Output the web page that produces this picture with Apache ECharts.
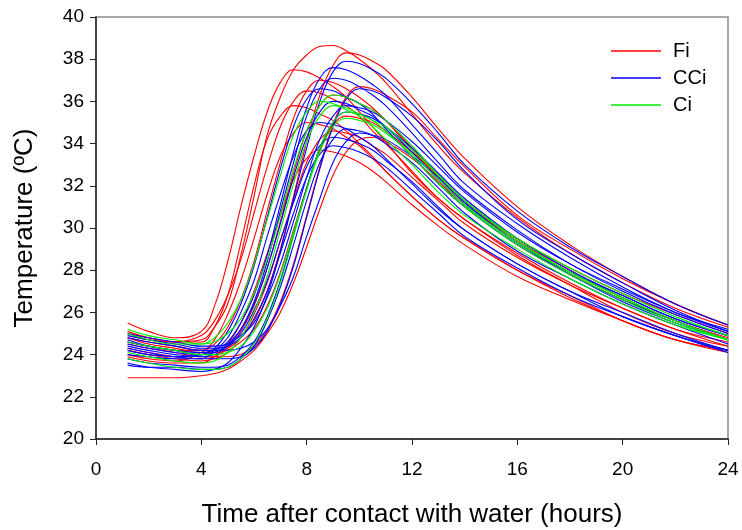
<!DOCTYPE html>
<html>
<head>
<meta charset="utf-8">
<script src="https://cdn.jsdelivr.net/npm/echarts@6/dist/echarts.min.js"></script>
<style>html,body{margin:0;padding:0;background:#fff}#c{width:742px;height:530px}</style>
</head>
<body>
<div id="c"></div>
<script>
// time grid (hours)
const hours = [1.2, 2, 3, 4, 4.5, 5, 5.5, 6, 6.5, 7, 7.5, 8, 8.5, 9, 9.5, 10, 10.5, 11, 12, 13, 14, 16, 18, 20, 22, 24];

// Fi curves (red)
const fi1  = [25.0,24.8,24.6,24.7,25.3,26.4,28.7,31.5,34.4,36.2,37.5,38.2,38.6,38.65,38.4,38.0,37.5,36.9,35.4,33.9,32.6,30.5,28.8,27.4,26.2,25.3];
const fi2  = [25.5,25.1,24.8,25.1,26.3,28.4,31.0,33.4,35.5,36.9,37.5,37.4,37.1,36.7,36.2,35.5,34.8,34.1,32.6,31.4,30.4,28.7,27.3,26.0,25.0,24.4];
const fi3  = [24.8,24.6,24.4,24.2,24.2,24.3,24.8,25.6,27.0,29.0,31.5,34.1,36.3,37.7,38.3,38.2,37.9,37.5,36.2,34.7,33.3,31.0,29.2,27.7,26.4,25.4];
const fi4  = [24.6,24.4,24.2,24.2,24.5,25.3,26.6,28.4,30.8,33.1,35.2,36.5,37.0,36.9,36.6,36.2,35.7,35.1,33.7,32.4,31.2,29.4,28.0,26.7,25.6,24.8];
const fi5  = [25.0,24.7,24.6,24.6,25.3,26.8,29.3,32.0,34.2,35.3,35.8,35.7,35.4,35.1,34.6,34.0,33.4,32.7,31.5,30.4,29.5,28.0,26.7,25.6,24.7,24.2];
const fi6  = [24.3,24.1,23.9,23.8,23.9,24.3,25.1,26.3,28.1,30.3,32.6,34.6,35.8,36.3,36.2,35.9,35.6,35.1,33.8,32.5,31.3,29.4,27.9,26.7,25.6,24.7];
const fi7  = [24.0,23.8,23.7,24.1,24.7,25.9,27.5,29.5,31.6,33.4,34.5,35.0,34.9,34.7,34.3,33.9,33.3,32.7,31.5,30.4,29.5,28.0,26.8,25.6,24.7,24.2];
const fi8  = [24.8,24.5,24.3,24.1,24.1,24.2,24.6,25.2,26.3,27.9,29.9,31.9,33.7,34.9,35.3,35.2,35.0,34.6,33.6,32.5,31.3,29.5,28.1,26.9,25.9,25.0];
const fi9  = [23.9,23.7,23.6,23.6,23.9,24.5,25.5,27.0,28.8,30.6,32.3,33.3,33.7,33.6,33.4,33.1,32.7,32.2,31.1,30.1,29.2,27.7,26.6,25.6,24.7,24.1];
const fi10 = [22.9,22.9,22.9,23.0,23.1,23.3,23.7,24.2,25.0,26.0,27.4,29.1,30.9,32.5,33.6,34.2,34.3,34.1,33.3,32.2,31.0,29.2,27.8,26.6,25.6,24.7];
const fi11 = [24.5,24.3,24.1,23.9,23.9,23.9,24.0,24.4,25.2,26.5,28.3,30.6,32.9,34.9,36.2,36.7,36.6,36.3,35.5,34.2,32.9,30.6,29.0,27.6,26.4,25.4];
const fi12 = [24.2,24.0,23.8,23.7,23.8,24.1,24.8,25.9,27.4,29.4,31.3,33.1,34.2,34.6,34.5,34.3,33.9,33.5,32.4,31.3,30.2,28.6,27.3,26.2,25.2,24.4];
const fi13 = [25.1,24.8,24.6,24.9,25.6,26.8,28.5,30.7,32.9,34.8,36.0,36.5,36.4,36.1,35.8,35.3,34.6,34.0,32.7,31.4,30.4,28.8,27.4,26.2,25.2,24.6];

// CCi curves (blue)
const cci1  = [24.9,24.7,24.5,24.3,24.3,24.4,24.8,25.7,27.0,28.9,31.4,33.8,36.0,37.4,37.9,37.8,37.5,37.1,35.9,34.5,33.0,30.8,29.1,27.7,26.4,25.4];
const cci2  = [24.6,24.4,24.2,24.1,24.2,24.6,25.5,26.8,28.7,31.1,33.6,35.7,37.1,37.6,37.5,37.2,36.8,36.3,34.9,33.5,32.1,30.2,28.6,27.2,26.0,25.1];
const cci3  = [24.4,24.2,24.0,23.9,24.0,24.4,25.2,26.5,28.4,30.8,33.1,35.3,36.6,37.1,37.0,36.7,36.3,35.8,34.5,33.1,31.8,29.9,28.3,27.0,25.9,25.0];
const cci4  = [24.2,24.0,23.9,23.8,23.8,23.8,23.9,24.3,25.1,26.4,28.2,30.5,32.8,34.8,36.1,36.6,36.5,36.2,35.3,34.1,32.7,30.4,28.8,27.4,26.1,25.1];
const cci5  = [24.7,24.4,24.2,24.0,24.1,24.5,25.2,26.4,28.1,30.2,32.4,34.3,35.5,36.0,35.9,35.6,35.3,34.8,33.6,32.3,31.1,29.3,27.8,26.6,25.6,24.7];
const cci6  = [23.8,23.6,23.5,23.4,23.4,23.5,23.9,24.6,25.8,27.5,29.7,31.9,33.8,35.0,35.5,35.4,35.2,34.8,33.8,32.6,31.4,29.5,28.0,26.8,25.7,24.9];
const cci7  = [24.0,23.9,23.8,23.8,24.2,24.8,26.0,27.5,29.6,31.6,33.4,34.6,35.0,34.9,34.7,34.3,33.9,33.3,32.1,30.9,29.9,28.3,27.0,25.8,24.9,24.2];
const cci8  = [23.5,23.4,23.4,23.3,23.3,23.4,23.8,24.4,25.6,27.2,29.2,31.3,33.1,34.2,34.7,34.6,34.4,34.0,33.1,31.9,30.7,28.9,27.6,26.4,25.4,24.5];
const cci9  = [24.5,24.3,24.1,24.0,24.1,24.4,25.0,26.1,27.5,29.4,31.2,32.9,33.9,34.3,34.2,34.0,33.7,33.2,32.2,31.0,29.9,28.3,27.0,26.0,25.0,24.2];
const cci10 = [24.8,24.6,24.4,24.2,24.2,24.2,24.3,24.6,25.2,26.3,27.7,29.6,31.4,33.1,34.1,34.5,34.4,34.2,33.4,32.4,31.2,29.3,27.9,26.8,25.7,24.9];
const cci11 = [24.3,24.1,23.9,24.0,24.3,25.1,26.4,28.2,30.5,32.8,34.8,36.1,36.6,36.5,36.2,35.9,35.4,34.7,33.4,32.1,31.0,29.2,27.8,26.5,25.5,24.7];
const cci12 = [23.6,23.4,23.3,23.2,23.3,23.6,24.3,25.3,26.8,28.8,30.7,32.4,33.5,33.9,33.8,33.6,33.3,32.9,31.8,30.7,29.6,28.1,26.8,25.8,24.9,24.1];
const cci13 = [25.0,24.8,24.6,24.4,24.4,24.5,24.9,25.5,26.7,28.3,30.3,32.4,34.2,35.3,35.8,35.7,35.5,35.1,34.1,32.9,31.7,29.8,28.3,27.1,26.0,25.2];

// Ci curves (green)
const ci1 = [25.2,24.9,24.7,24.5,24.6,25.0,25.7,26.9,28.5,30.6,32.8,34.6,35.8,36.3,36.2,35.9,35.6,35.1,33.9,32.5,31.3,29.5,28.1,26.9,25.8,24.9];
const ci2 = [25.0,24.7,24.5,24.5,24.8,25.5,26.6,28.3,30.4,32.5,34.4,35.5,36.0,35.9,35.6,35.3,34.8,34.2,33.0,31.7,30.6,29.0,27.6,26.4,25.4,24.7];
const ci3 = [24.1,23.9,23.7,23.6,23.7,24.1,24.8,26.0,27.7,29.9,32.1,34.1,35.3,35.8,35.7,35.4,35.1,34.6,33.4,32.1,31.0,29.2,27.8,26.6,25.5,24.7];
const ci4 = [23.8,23.6,23.4,23.3,23.3,23.4,23.8,24.5,25.7,27.4,29.6,31.8,33.8,35.0,35.5,35.4,35.1,34.8,33.7,32.5,31.3,29.4,27.9,26.7,25.6,24.7];
const ci5 = [24.6,24.4,24.2,24.0,24.0,24.1,24.4,25.1,26.2,27.8,29.8,31.8,33.6,34.8,35.2,35.1,34.9,34.5,33.5,32.3,31.1,29.3,27.9,26.7,25.6,24.7];

const xTicks = [0, 4, 8, 12, 16, 20, 24];
const yTicks = [20, 22, 24, 26, 28, 30, 32, 34, 36, 38, 40];

const groups = [
  { name: 'Fi',  color: '#ff0000', curves: [fi1, fi2, fi3, fi4, fi5, fi6, fi7, fi8, fi9, fi10, fi11, fi12, fi13] },
  { name: 'CCi', color: '#0000ff', curves: [cci1, cci2, cci3, cci4, cci5, cci6, cci7, cci8, cci9, cci10, cci11, cci12, cci13] },
  { name: 'Ci',  color: '#00ee00', curves: [ci1, ci2, ci3, ci4, ci5] }
];

const series = [];
groups.forEach(g => {
  g.curves.forEach(c => {
    series.push({
      name: g.name,
      type: 'line',
      smooth: 0.4,
      symbol: 'none',
      showSymbol: false,
      lineStyle: { color: g.color, width: 1.1 },
      itemStyle: { color: g.color },
      emphasis: { disabled: true },
      animation: false,
      data: hours.map((h, i) => [h, c[i]])
    });
  });
});

const font = '"Liberation Sans", Arial, sans-serif';
const chart = echarts.init(document.getElementById('c'), null, { renderer: 'canvas' });
chart.setOption({
  animation: false,
  backgroundColor: '#fff',
  grid: { left: 96, right: 14, top: 17, bottom: 91, show: true, outerBoundsMode: 'none', containLabel: false,
    borderColor: '#8c8c8c', borderWidth: 1.5, backgroundColor: 'transparent' },
  legend: {
    data: groups.map(g => ({ name: g.name, icon: 'rect', itemStyle: { color: g.color } })),
    orient: 'vertical',
    left: 606, top: 36,
    itemWidth: 50, itemHeight: 1.5, itemGap: 7,
    selectedMode: false,
    textStyle: { fontFamily: font, fontSize: 20, color: '#000', padding: [0, 0, 0, 7] }
  },
  xAxis: {
    type: 'value', min: 0, max: 24, interval: 4,
    name: 'Time after contact with water (hours)',
    nameLocation: 'middle', nameGap: 63,
    nameTextStyle: { fontFamily: font, fontSize: 26, color: '#000' },
    axisLine: { show: true, lineStyle: { color: '#222', width: 1.5 } },
    axisTick: { show: true, inside: false, length: 6, lineStyle: { color: '#222' } },
    axisLabel: { fontFamily: font, fontSize: 19, color: '#000', margin: 21,
      customValues: xTicks, formatter: v => String(v) },
    splitLine: { show: false }
  },
  yAxis: {
    type: 'value', min: 20, max: 40, interval: 2,
    name: 'Temperature (ºC)',
    nameLocation: 'middle', nameGap: 58,
    nameTextStyle: { fontFamily: font, fontSize: 26, color: '#000' },
    axisLine: { show: true, lineStyle: { color: '#222', width: 1.5 } },
    axisTick: { show: true, inside: false, length: 6, lineStyle: { color: '#222' } },
    axisLabel: { fontFamily: font, fontSize: 19, color: '#000', margin: 12,
      formatter: v => yTicks.includes(v) ? String(v) : '' },
    splitLine: { show: false }
  },
  series: series
});
</script>
</body>
</html>
